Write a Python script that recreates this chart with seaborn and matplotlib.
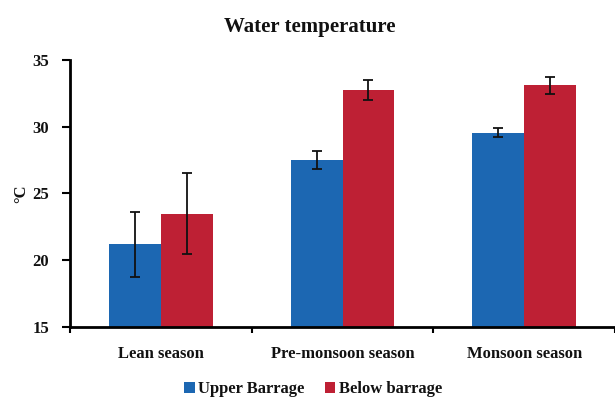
import matplotlib
matplotlib.use("Agg")
import matplotlib.pyplot as plt
import seaborn as sns
import pandas as pd

# Mean water temperature (°C) with standard deviation, by season and site
seasons = ["Lean season", "Pre-monsoon season", "Monsoon season"]
sites = ["Upper Barrage", "Below barrage"]
upper_mean = [21.2, 27.5, 29.55]
upper_sd = [2.45, 0.7, 0.35]
below_mean = [23.5, 32.75, 33.1]
below_sd = [3.05, 0.75, 0.65]
y_ticks = [15, 20, 25, 30, 35]

colors = {"Upper Barrage": "#1C67B2", "Below barrage": "#BE2034"}

df = pd.DataFrame({
    "season": seasons * 2,
    "site": [sites[0]] * 3 + [sites[1]] * 3,
    "temp": upper_mean + below_mean,
})
sd_by_site = {sites[0]: upper_sd, sites[1]: below_sd}

sns.set_theme(style="white")
plt.rcParams["font.family"] = ["Liberation Serif", "DejaVu Serif"]
plt.rcParams["text.color"] = "#111111"
plt.rcParams["xtick.color"] = "#111111"
plt.rcParams["ytick.color"] = "#111111"
plt.rcParams["axes.labelcolor"] = "#111111"

fig = plt.figure(figsize=(6.15, 3.99), dpi=100)
ax = fig.add_axes([70 / 615, 1 - 327 / 399, 545 / 615, 267 / 399])

sns.barplot(data=df, x="season", y="temp", hue="site", hue_order=sites,
            order=seasons, palette=colors, width=0.57, gap=0, linewidth=0,
            errorbar=None, saturation=1, ax=ax, legend=True)

# Standard-deviation whiskers on each bar
for cont, site in zip(ax.containers, sites):
    xs = [b.get_x() + b.get_width() / 2 for b in cont]
    ys = [b.get_height() for b in cont]
    ax.errorbar(xs, ys, yerr=sd_by_site[site], fmt="none", ecolor="#111111",
                elinewidth=1.3, capsize=3.5, capthick=1.3, zorder=5)

ax.set_ylim(15, 35)
ax.set_yticks(y_ticks)
ax.set_xlim(-0.5, 2.5)
ax.set_xticks([-0.5, 0.5, 1.5, 2.5], minor=False)
ax.set_xticklabels(["", "", "", ""])
ax.set_xticks([0, 1, 2], minor=True)
ax.set_xticklabels(seasons, minor=True, fontweight="bold")
ax.tick_params(axis="x", which="major", direction="out", length=4, width=1.5,
               color="black", bottom=True)
ax.tick_params(axis="x", which="minor", length=0, pad=14, labelsize=12)
ax.tick_params(axis="y", direction="out", length=6, width=1.5, color="black",
               left=True, pad=9, labelsize=12)
for lbl in ax.get_yticklabels():
    lbl.set_fontweight("bold")

for side in ["top", "right"]:
    ax.spines[side].set_visible(False)
for side in ["left", "bottom"]:
    ax.spines[side].set_color("black")
    ax.spines[side].set_linewidth(2)

ax.set_xlabel("")
ax.set_ylabel("°C", fontsize=12, fontweight="bold", labelpad=2)
ax.yaxis.set_label_coords(-0.075, 0.5)

handles, labels = ax.get_legend_handles_labels()
ax.get_legend().remove()
fig.legend(handles, labels, loc="center", bbox_to_anchor=(313 / 615, 1 - 389 / 399),
           ncol=2, frameon=False, prop={"size": 12, "weight": "bold"},
           handlelength=0.65, handleheight=0.65, handletextpad=0.2,
           columnspacing=1.2)

fig.text(310 / 615, 1 - 27 / 399, "Water temperature", ha="center", va="center",
         fontsize=15, fontweight="bold")

fig.savefig("out.png", dpi=100)
